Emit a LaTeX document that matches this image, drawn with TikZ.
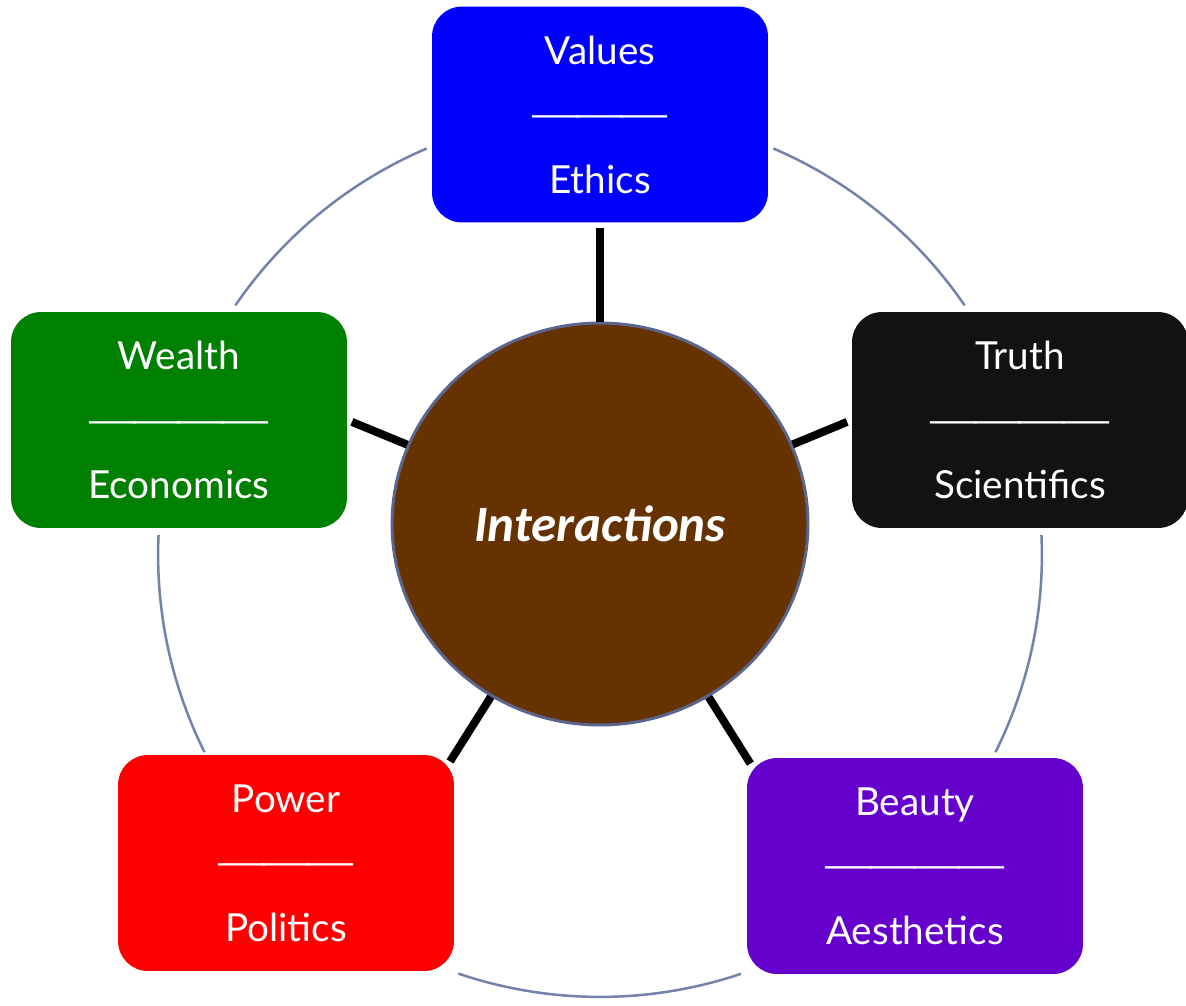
\documentclass[tikz,border=0pt]{standalone}
\usepackage{fontspec}
\usepackage{graphicx}
\setmainfont{Lato}
\newfontfamily\hubfont{Carlito}
\usetikzlibrary{shapes.geometric}
\definecolor{valblue}{HTML}{0000FF}
\definecolor{truthblack}{HTML}{121212}
\definecolor{wealthgreen}{HTML}{008000}
\definecolor{powerred}{HTML}{FF0000}
\definecolor{beautypurple}{HTML}{6600CC}
\definecolor{hubbrown}{HTML}{663300}
\definecolor{hubedge}{HTML}{5A6690}
\definecolor{ringblue}{HTML}{7382AA}
\newcommand{\sepline}[1]{\raisebox{0.32cm}{\foreach \k in {1,...,#1}{\makebox[0.88cm]{\scalebox{3.1}[1]{\_}}}}}
\tikzstyle{topic} = [rectangle, rounded corners=0.6cm, minimum width=6.72cm, minimum height=4.32cm, align=center, text=white, font=\fontsize{22}{36.7}\selectfont]
\tikzstyle{hub} = [ellipse, minimum width=8.32cm, minimum height=8.04cm, fill=hubbrown, draw=hubedge, line width=0.06cm, text=white, font=\hubfont\bfseries\itshape\fontsize{29}{34}\selectfont]
\tikzstyle{spoke} = [line width=0.16cm, black]
\tikzstyle{ring} = [line width=0.05cm, ringblue]

\begin{document}
\begin{tikzpicture}[x=0.02cm, y=-0.02cm]
\useasboundingbox (0,0) rectangle (1186,1005);
\coordinate (ringc) at (600,555);

% outer cycle
\draw [ring] ([shift={(145.6:8.84cm)}]ringc) arc[start angle=145.6, end angle=113.1, radius=8.84cm];
\draw [ring] ([shift={(66.9:8.84cm)}]ringc) arc[start angle=66.9, end angle=34.4, radius=8.84cm];
\draw [ring] ([shift={(2.6:8.84cm)}]ringc) arc[start angle=2.6, end angle=-26.5, radius=8.84cm];
\draw [ring] ([shift={(288.6:8.84cm)}]ringc) arc[start angle=288.6, end angle=251.3, radius=8.84cm];
\draw [ring] ([shift={(206.5:8.84cm)}]ringc) arc[start angle=206.5, end angle=177.4, radius=8.84cm];

\node (hub) [hub] at (600,524) {Interactions};
\node (values) [topic, fill=valblue] at (600,114.5) {Values\\\sepline{3}\\Ethics};
\node (truth) [topic, fill=truthblack] at (1020,420) {Truth\\\sepline{4}\\Scientifics};
\node (wealth) [topic, fill=wealthgreen] at (179,420) {Wealth\\\sepline{4}\\Economics};
\node (power) [topic, fill=powerred] at (286,863) {Power\\\sepline{3}\\Politics};
\node (beauty) [topic, fill=beautypurple] at (915,866) {Beauty\\\sepline{4}\\Aesthetics};

% spokes
\draw [spoke, shorten >=0.1cm] (hub) -- (values);
\draw [spoke, shorten >=0.1cm] (hub) -- (truth.west);
\draw [spoke, shorten >=0.1cm] (hub) -- (wealth.east);
\draw [spoke, shorten >=-0.16cm] (hub) -- (power.north east);
\draw [spoke, shorten >=-0.14cm] (hub) -- (beauty.north west);
\end{tikzpicture}
\end{document}
